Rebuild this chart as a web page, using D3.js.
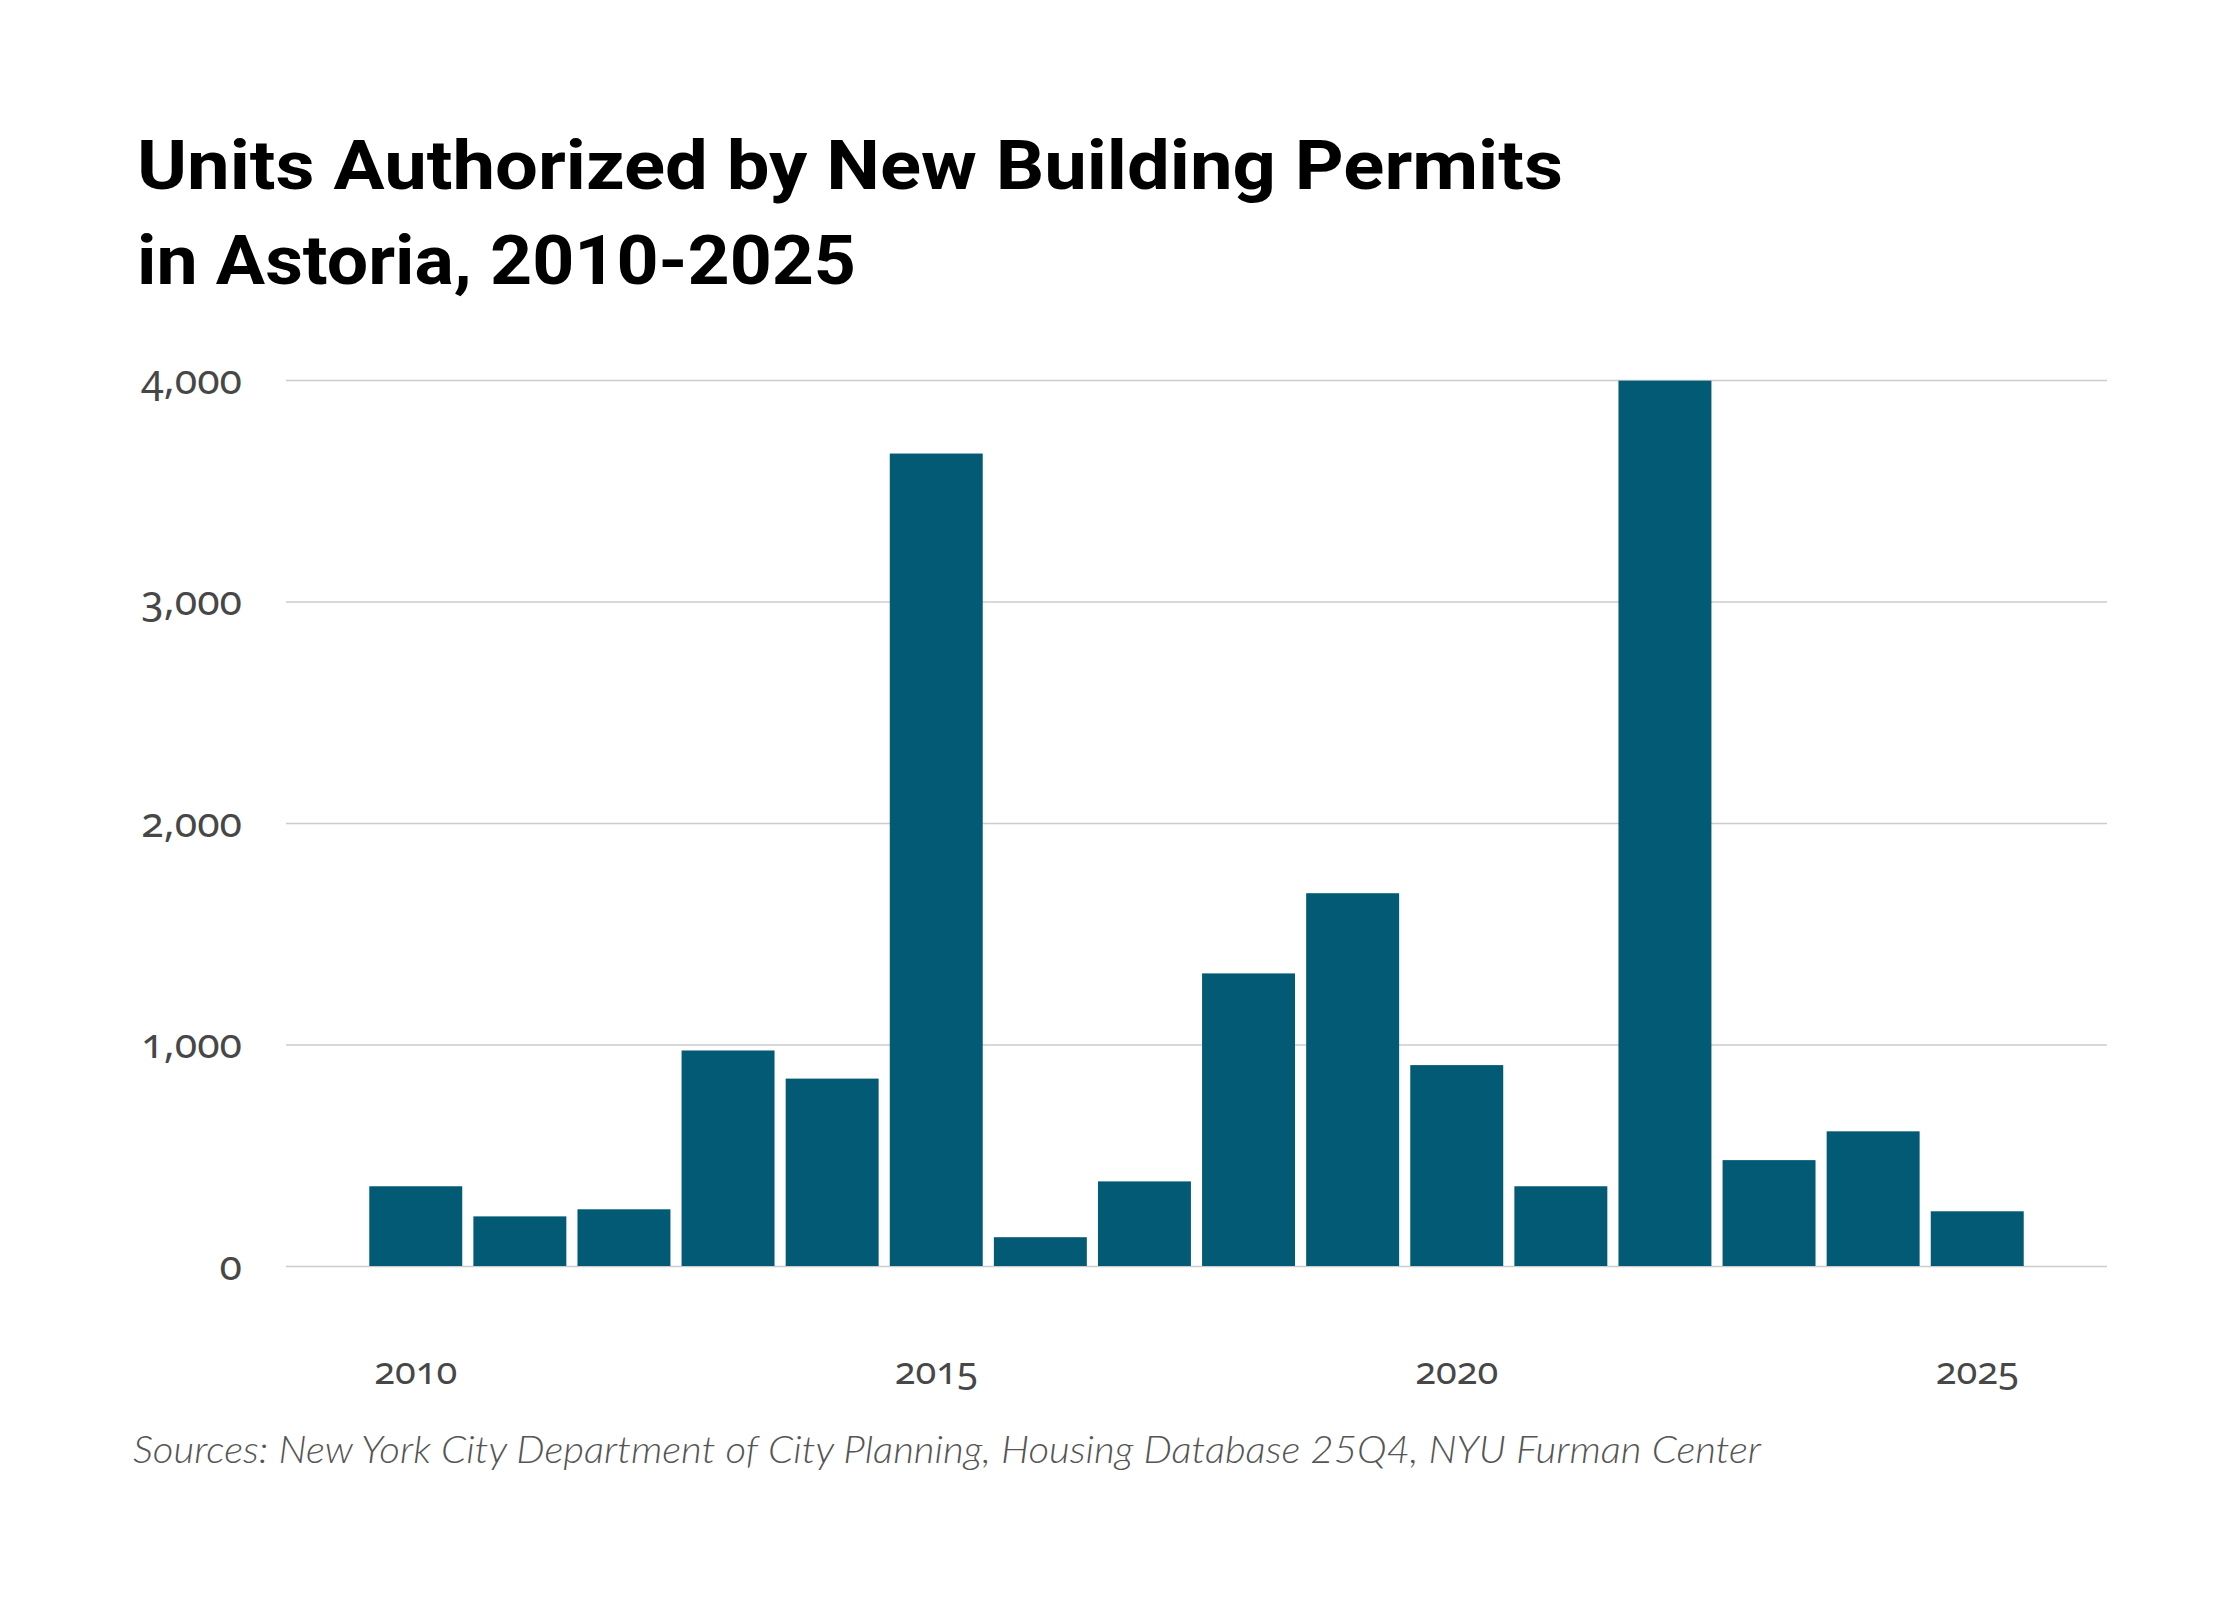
<!DOCTYPE html>
<html>
<head>
<meta charset="utf-8">
<script src="https://cdn.jsdelivr.net/npm/d3@7"></script>
<style>
  body { margin: 0; background: #fff; }
  svg { display: block; }
</style>
</head>
<body>
<svg id="chart" width="2240" height="1600"></svg>
<script>
// units authorized by new building permits, Astoria
var years = [2010, 2011, 2012, 2013, 2014, 2015, 2016, 2017, 2018, 2019, 2020, 2021, 2022, 2023, 2024, 2025];
var units = [360, 224, 256, 973, 846, 3668, 130, 382, 1321, 1683, 907, 360, 3997, 478, 608, 247];
var yTicks = [0, 1000, 2000, 3000, 4000];
var xTicks = [2010, 2015, 2020, 2025];
var titleLines = ["Units Authorized by New Building Permits", "in Astoria, 2010-2025"];
var sourceText = "Sources: New York City Department of City Planning, Housing Database 25Q4, NYU Furman Center";

var svg = d3.select("#chart");
// plot area (window.top is reserved, so no plain "top" here)
var plotLeft = 286, plotRight = 2107, plotTop = 380, plotBottom = 1266;

var x = d3.scaleBand()
    .domain(years)
    .range([plotLeft, plotRight])
    .paddingInner(0.107)
    .paddingOuter(0.8);

var y = d3.scaleLinear()
    .domain([0, 4000])
    .range([plotBottom, plotTop]);

svg.append("rect")
    .attr("width", 2240).attr("height", 1600)
    .attr("fill", "#fff");

// title
svg.append("g")
    .selectAll("text")
    .data(titleLines)
    .join("text")
    .attr("x", 137)
    .attr("y", function(d, i) { return 189 + i * 95; })
    .attr("font-family", "Roboto, 'Noto Sans', sans-serif")
    .attr("font-weight", 700)
    .attr("font-size", 68)
    .attr("fill", "#000")
    .attr("textLength", function(d, i) { return i == 0 ? 1426 : 719; })
    .attr("lengthAdjust", "spacingAndGlyphs")
    .text(function(d) { return d; });

// y axis + gridlines
var yAxis = svg.append("g")
    .attr("transform", "translate(" + plotLeft + ",0)")
    .call(d3.axisLeft(y)
        .tickValues(yTicks)
        .tickSize(-(plotRight - plotLeft))
        .tickPadding(44)
        .tickFormat(d3.format(",")));

yAxis.select(".domain").remove();
yAxis.selectAll(".tick line")
    .attr("stroke", "#cccccc")
    .attr("stroke-width", 1.5);
yAxis.selectAll(".tick text")
    .attr("font-family", "'Noto Sans', sans-serif")
    .style("font-variant-numeric", "oldstyle-nums")
    .attr("font-size", 41)
    .attr("fill", "#474747")
    .attr("dy", 13);

// bars
svg.append("g")
    .selectAll("rect")
    .data(units)
    .join("rect")
    .attr("x", function(d, i) { return x(years[i]); })
    .attr("y", function(d) { return y(d); })
    .attr("width", x.bandwidth())
    .attr("height", function(d) { return y(0) - y(d); })
    .attr("fill", "#025a74");

// x axis labels
var xAxis = svg.append("g")
    .attr("transform", "translate(0," + plotBottom + ")")
    .call(d3.axisBottom(x)
        .tickValues(xTicks)
        .tickSize(0)
        .tickPadding(118));

xAxis.select(".domain").remove();
xAxis.selectAll(".tick text")
    .attr("font-family", "'Noto Sans', sans-serif")
    .style("font-variant-numeric", "oldstyle-nums")
    .attr("font-size", 38)
    .attr("fill", "#474747")
    .attr("dy", 0);

// source note
svg.append("text")
    .attr("x", 133)
    .attr("y", 1463)
    .attr("font-family", "Lato, 'Open Sans', sans-serif")
    .attr("font-style", "italic")
    .attr("font-weight", 300)
    .attr("font-size", 38)
    .attr("fill", "#555")
    .attr("textLength", 1628)
    .attr("lengthAdjust", "spacingAndGlyphs")
    .text(sourceText);
</script>
</body>
</html>
